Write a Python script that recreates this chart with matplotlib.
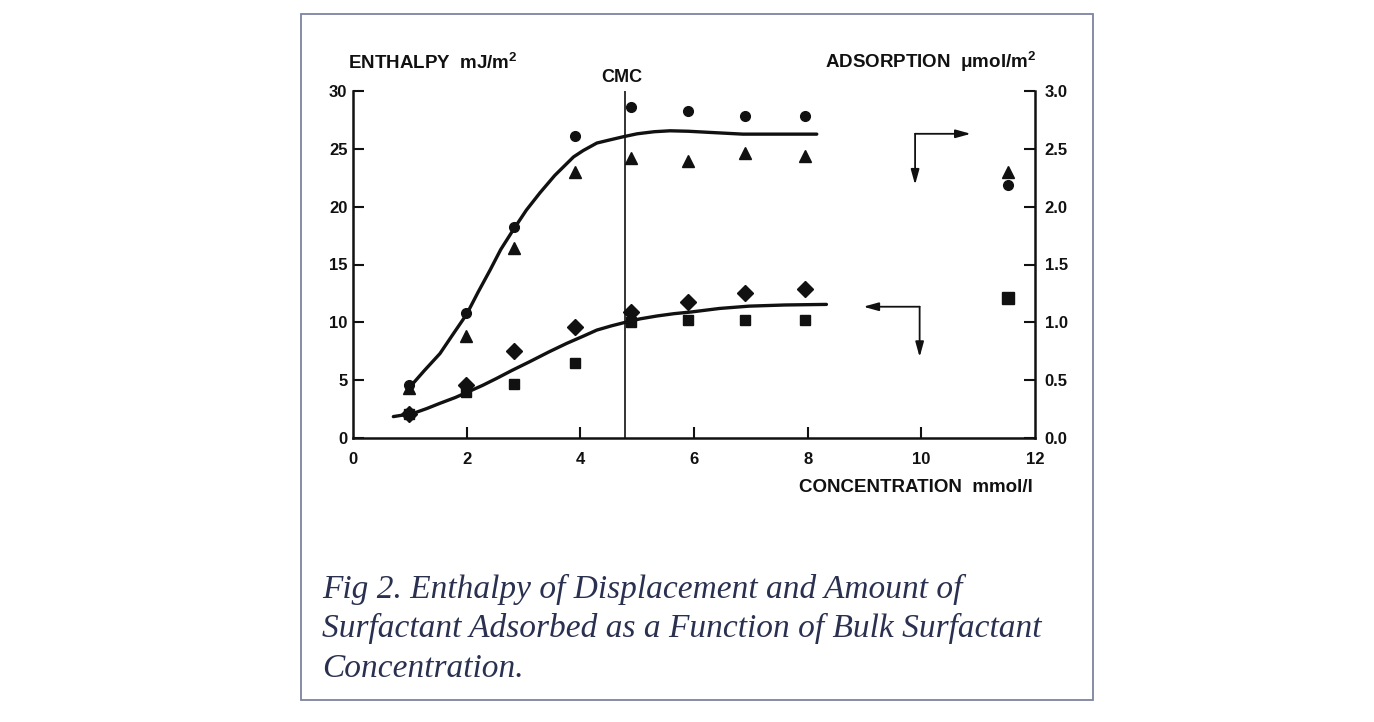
import matplotlib
matplotlib.use("Agg")
import matplotlib.pyplot as plt
from matplotlib.patches import Rectangle

plt.rcParams['font.family'] = ['Liberation Sans', 'DejaVu Sans']
plt.rcParams['mathtext.fontset'] = 'custom'
plt.rcParams['mathtext.rm'] = 'Liberation Sans:bold'
plt.rcParams['mathtext.default'] = 'rm'

# ---------------- data ----------------
conc = [0.99, 1.99, 2.83, 3.9, 4.9, 5.9, 6.9, 7.95]
circles = [4.6, 10.8, 18.2, 26.1, 28.6, 28.3, 27.8, 27.8]
triangles = [4.3, 8.8, 16.4, 23.0, 24.2, 23.95, 24.6, 24.4]
diamonds = [2.1, 4.6, 7.5, 9.6, 10.9, 11.8, 12.5, 12.9]
squares = [2.1, 4.0, 4.7, 6.45, 10.0, 10.2, 10.2, 10.2]

iso_x = [11.53]
iso_triangle = [23.0]
iso_circle = [21.9]
iso_square = [12.1]

upper_x = [1.0, 1.25, 1.53, 1.75, 2.0, 2.2, 2.41, 2.6, 2.82, 3.05, 3.29, 3.55,
           3.88, 4.05, 4.29, 4.5, 4.76, 5.0, 5.3, 5.58, 5.9, 6.28, 6.86, 7.5, 8.16]
upper_y = [4.4, 5.8, 7.3, 8.9, 10.7, 12.6, 14.5, 16.3, 18.0, 19.7, 21.2, 22.7,
           24.3, 24.85, 25.5, 25.75, 26.05, 26.3, 26.48, 26.56, 26.52, 26.42, 26.27, 26.27, 26.27]
lower_x = [0.71, 0.9, 1.06, 1.3, 1.53, 1.8, 2.03, 2.28, 2.53, 2.8, 3.11, 3.45, 3.76,
           4.05, 4.29, 4.55, 4.79, 5.05, 5.35, 5.65, 5.96, 6.45, 6.97, 7.6, 8.33]
lower_y = [1.85, 2.0, 2.13, 2.55, 3.0, 3.5, 4.0, 4.55, 5.16, 5.85, 6.6, 7.45, 8.18,
           8.8, 9.33, 9.7, 10.0, 10.3, 10.55, 10.75, 10.9, 11.2, 11.4, 11.5, 11.55]

cmc = 4.79

x_ticks = [0, 2, 4, 6, 8, 10, 12]
y_ticks = [0, 5, 10, 15, 20, 25, 30]
y2_ticks = [0.0, 0.5, 1.0, 1.5, 2.0, 2.5, 3.0]

# arrow guides: corner and tips
upper_arrow_corner = (9.89, 26.3)
upper_arrow_right_tip = (10.87, 26.3)
upper_arrow_down_tip = (9.89, 21.9)
lower_arrow_corner = (9.97, 11.35)
lower_arrow_left_tip = (8.98, 11.35)
lower_arrow_down_tip = (9.97, 7.0)

caption_lines = ["Fig 2. Enthalpy of Displacement and Amount of",
                 "Surfactant Adsorbed as a Function of Bulk Surfactant",
                 "Concentration."]

# ---------------- figure ----------------
W, H = 1374, 722
fig = plt.figure(figsize=(W / 100, H / 100), dpi=100)
fig.patch.set_facecolor('white')

fig.add_artist(Rectangle((301 / W, 1 - 700 / H), (1093 - 301) / W, (700 - 14) / H,
                         transform=fig.transFigure, fill=False,
                         edgecolor='#7d84a3', linewidth=1.3))

ax = fig.add_axes([353 / W, 1 - 438 / H, (1035 - 353) / W, (438 - 91) / H])
ax.set_xlim(0, 12)
ax.set_ylim(0, 30)
ax2 = ax.twinx()
ax2.set_ylim(0, 3)

ink = '#111111'
for a in (ax, ax2):
    a.set_facecolor('none')
    for s in a.spines.values():
        s.set_visible(False)
        s.set_linewidth(1.8)
        s.set_color(ink)
ax.spines['left'].set_visible(True)
ax.spines['bottom'].set_visible(True)
ax2.spines['right'].set_visible(True)

ax.set_xticks(x_ticks)
ax.set_xticklabels([str(v) for v in x_ticks])
ax.set_yticks(y_ticks)
ax.set_yticklabels([str(v) for v in y_ticks])
ax2.set_yticks(y2_ticks)
ax2.set_yticklabels([f"{v:.1f}" for v in y2_ticks])

ax.tick_params(axis='x', direction='in', length=8, width=1.5, pad=10, colors=ink, labelsize=12)
ax.tick_params(axis='y', direction='in', length=8, width=1.5, pad=4, colors=ink, labelsize=12)
ax2.tick_params(axis='y', direction='in', length=8, width=1.5, pad=7, colors=ink, labelsize=12)
for lab in ax.get_xticklabels() + ax.get_yticklabels() + ax2.get_yticklabels():
    lab.set_fontweight('bold')
for t in ax.xaxis.get_major_ticks():
    if t.get_loc() in (0, 12):
        t.tick1line.set_visible(False)

# curves
ax.plot(upper_x, upper_y, color=ink, lw=2.4, solid_capstyle='round',
        solid_joinstyle='round', zorder=3)
ax.plot(lower_x, lower_y, color=ink, lw=2.4, solid_capstyle='round',
        solid_joinstyle='round', zorder=3)

# CMC line
ax.axvline(cmc, color=ink, lw=1.2, zorder=2)

# points
ax.plot(conc, circles, 'o', color=ink, ms=7, zorder=4, clip_on=False)
ax.plot(conc, triangles, '^', color=ink, ms=8, zorder=4, clip_on=False)
ax.plot(conc, diamonds, 'D', color=ink, ms=8, zorder=4, clip_on=False)
ax.plot(conc, squares, 's', color=ink, ms=7.5, zorder=4, clip_on=False)
ax.plot(iso_x, iso_triangle, '^', color=ink, ms=8, zorder=4)
ax.plot(iso_x, iso_circle, 'o', color=ink, ms=7, zorder=4)
ax.plot(iso_x, iso_square, 's', color=ink, ms=8, zorder=4)

# arrows
ap = dict(arrowstyle='-|>,head_length=0.9,head_width=0.25', color=ink, lw=1.3,
          shrinkA=0, shrinkB=0)
ax.annotate('', xy=upper_arrow_right_tip, xytext=upper_arrow_corner, arrowprops=ap)
ax.annotate('', xy=upper_arrow_down_tip, xytext=upper_arrow_corner, arrowprops=ap)
ax.annotate('', xy=lower_arrow_left_tip, xytext=lower_arrow_corner, arrowprops=ap)
ax.annotate('', xy=lower_arrow_down_tip, xytext=lower_arrow_corner, arrowprops=ap)

# texts
fig.text(348 / W, 1 - 63 / H, r"ENTHALPY  mJ/m$^{2}$", ha='left', va='center',
         fontsize=13.5, fontweight='bold', color=ink)
fig.text(1036 / W, 1 - 62 / H, "ADSORPTION  μmol/m$^{2}$", ha='right', va='center',
         fontsize=13.5, fontweight='bold', color=ink)
fig.text(622 / W, 1 - 78 / H, "CMC", ha='center', va='center',
         fontsize=13, fontweight='bold', color=ink)
fig.text(1033 / W, 1 - 487 / H, "CONCENTRATION  mmol/l", ha='right', va='center',
         fontsize=13.5, fontweight='bold', color=ink)

for i, line in enumerate(caption_lines):
    fig.text(322 / W, 1 - (598 + 39.5 * i) / H, line, ha='left', va='baseline',
             fontsize=24, style='italic', family='Liberation Serif',
             color='#2a3050')

fig.savefig('out.png', dpi=100, facecolor='white')
